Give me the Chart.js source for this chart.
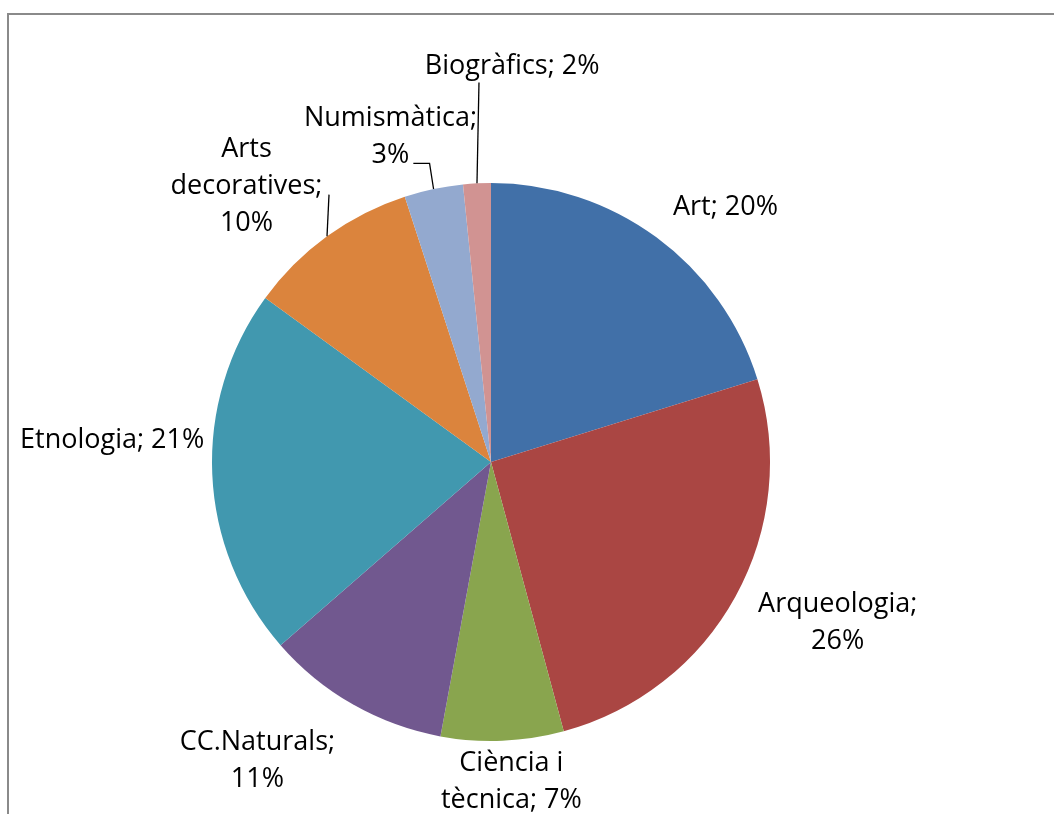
<!DOCTYPE html>
<html>
<head>
<meta charset="utf-8">
<script src="https://cdn.jsdelivr.net/npm/chart.js@4/dist/chart.umd.min.js"></script>
<style>
    html, body { margin: 0; padding: 0; background: #fff; overflow: hidden; }
    #wrap { position: absolute; left: 0; top: 0; width: 1054px; height: 814px; }
    #frame {
        position: absolute; left: 7px; top: 13px; width: 1100px; height: 900px;
        border-left: 2px solid #8a8a8a; border-top: 2px solid #8a8a8a;
    }
</style>
</head>
<body>
<div id="frame"></div>
<div id="wrap"><canvas id="pieFons"></canvas></div>
<script>
// Dades del gràfic (percentatges llegits de la imatge)
const categories = ['Art', 'Arqueologia', 'Ciència i tècnica', 'CC.Naturals', 'Etnologia', 'Arts decoratives', 'Numismàtica', 'Biogràfics'];
const shares = [20.2, 25.6, 7.1, 10.7, 21.4, 10.0, 3.4, 1.6];
const sliceColors = ['#4170a8', '#aa4643', '#89a54e', '#71588f', '#4198af', '#db843d', '#93a9cf', '#d19392'];

// Posició de les etiquetes: distància (en radis), desplaçament d'angle (graus), amplada màxima, línia guia
const labelLayout = [
    { k: 1.24, shift: 6.3, maxW: 400, leader: null },
    { k: 1.37, shift: -3.9, maxW: 180, leader: null },
    { k: 1.15, shift: -1.3, maxW: 180, leader: null },
    { k: 1.36, shift: 8.3, maxW: 180, leader: null },
    { k: 1.36, shift: 5.8, maxW: 400, leader: null },
    { k: 1.32, shift: -5.6, maxW: 180, leader: 1 },
    { k: 1.22, shift: -5.3, maxW: 180, leader: 1 },
    { k: 1.42, shift: 5.95, maxW: 400, leader: 0 }
];

const FONT = '27px "Open Sans"';
const LINE_H = 37;

function wrapText(ctx, text, maxW) {
    const words = text.split(' ');
    const lines = [];
    let cur = '';
    words.forEach(w => {
        const test = cur ? cur + ' ' + w : w;
        if (cur && ctx.measureText(test).width > maxW) {
            lines.push(cur);
            cur = w;
        } else {
            cur = test;
        }
    });
    if (cur) lines.push(cur);
    return lines;
}

// Etiquetes de dades amb línies guia
const pieLabels = {
    id: 'pieLabels',
    afterDatasetsDraw(chart) {
        const ctx = chart.ctx;
        const meta = chart.getDatasetMeta(0);
        const data = chart.data.datasets[0].data;
        const total = data.reduce((a, b) => a + b, 0);
        ctx.save();
        ctx.font = FONT;
        ctx.fillStyle = '#000';
        ctx.textAlign = 'center';
        ctx.textBaseline = 'middle';
        meta.data.forEach((arc, i) => {
            const p = arc.getProps(['x', 'y', 'startAngle', 'endAngle', 'outerRadius'], true);
            const lay = labelLayout[i];
            const mid = (p.startAngle + p.endAngle) / 2;
            const a = mid + lay.shift * Math.PI / 180;
            const cx = p.x + Math.cos(a) * p.outerRadius * lay.k;
            const cy = p.y + Math.sin(a) * p.outerRadius * lay.k;
            const text = chart.data.labels[i] + '; ' + Math.round(data[i] / total * 100) + '%';
            const lines = wrapText(ctx, text, lay.maxW);
            const top = cy - lines.length * LINE_H / 2;
            lines.forEach((ln, j) => {
                ctx.fillText(ln, cx, top + LINE_H * (j + 0.5));
            });

            if (lay.leader !== null) {
                const t = lay.leader;
                const px = p.x + Math.cos(mid) * p.outerRadius;
                const py = p.y + Math.sin(mid) * p.outerRadius;
                const lw = ctx.measureText(lines[t]).width;
                const left = cx - lw / 2, right = cx + lw / 2;
                const lineMid = top + LINE_H * (t + 0.5);
                ctx.strokeStyle = '#000';
                ctx.lineWidth = 1.3;
                ctx.beginPath();
                ctx.moveTo(px, py);
                if (px >= left - 8 && px <= right + 8) {
                    ctx.lineTo(px + 2, lineMid + (px >= left && px <= right ? 16 : 8));
                } else {
                    const ey = lineMid + 8;
                    ctx.lineTo(px - 4, ey);
                    ctx.lineTo(px > right ? right + 4 : left - 4, ey);
                }
                ctx.stroke();
            }
        });
        ctx.restore();
    }
};

new Chart(document.getElementById('pieFons').getContext('2d'), {
    type: 'pie',
    data: {
        labels: categories,
        datasets: [{
            data: shares,
            backgroundColor: sliceColors,
            borderWidth: 0,
            hoverOffset: 0
        }]
    },
    options: {
        responsive: true,
        maintainAspectRatio: false,
        animation: false,
        layout: { padding: { left: 212, right: 284, top: 183, bottom: 73 } },
        plugins: {
            legend: { display: false },
            tooltip: { enabled: false }
        }
    },
    plugins: [pieLabels]
});
</script>
</body>
</html>
